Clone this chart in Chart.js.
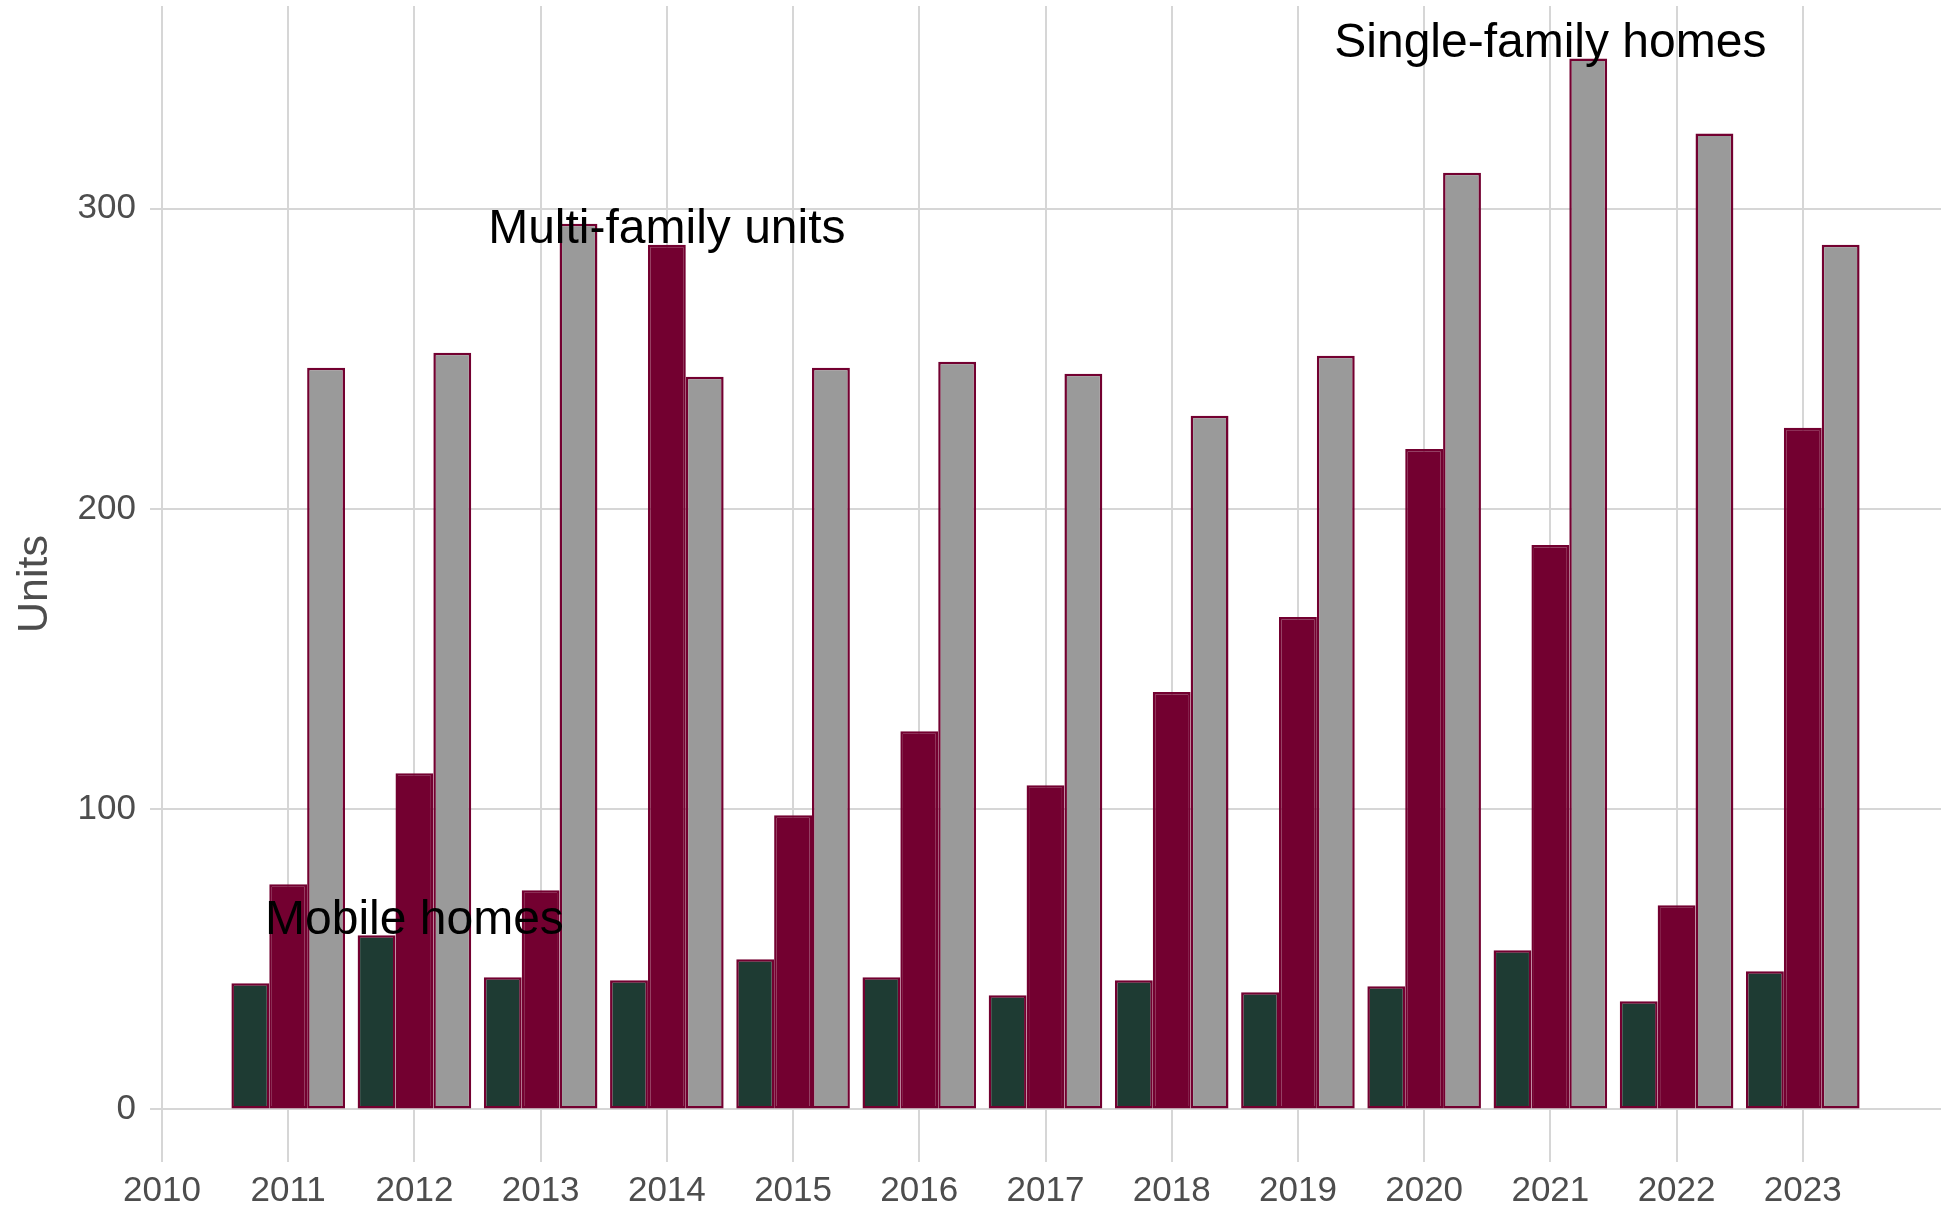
<!DOCTYPE html>
<html>
<head>
<meta charset="utf-8">
<script src="https://cdn.jsdelivr.net/npm/chart.js@4"></script>
<style>
  html, body { margin: 0; padding: 0; background: #ffffff; }
  #chart { display: block; }
</style>
</head>
<body>
<canvas id="chart" width="1941" height="1208"></canvas>
<script>
// ---- data ----
const years = [2011, 2012, 2013, 2014, 2015, 2016, 2017, 2018, 2019, 2020, 2021, 2022, 2023];
const mobileHomes = [42, 58, 44, 43, 50, 44, 38, 43, 39, 41, 53, 36, 46];
const multiFamily = [75, 112, 73, 288, 98, 126, 108, 139, 164, 220, 188, 68, 227];
const singleFamily = [247, 252, 295, 244, 247, 249, 245, 231, 251, 312, 350, 325, 288];
const xTickYears = [2010, 2011, 2012, 2013, 2014, 2015, 2016, 2017, 2018, 2019, 2020, 2021, 2022, 2023];
const yTickValues = [0, 100, 200, 300];
const seriesNames = ["Mobile homes", "Multi-family units", "Single-family homes"];

const FONT = "'Liberation Sans', Arial, Helvetica, sans-serif";
const EDGE = "#730030";

function toPoints(values) {
    return values.map((v, i) => ({ x: years[i], y: v }));
}

// series label sits just above each series' highest bar
const seriesLabels = {
    id: "seriesLabels",
    afterDatasetsDraw(chart) {
        const { ctx, scales } = chart;
        ctx.save();
        ctx.font = "48px " + FONT;
        ctx.fillStyle = "#000000";
        ctx.textAlign = "center";
        ctx.textBaseline = "middle";
        chart.data.datasets.forEach((ds) => {
            let best = ds.data[0];
            ds.data.forEach((p) => { if (p.y > best.y) best = p; });
            ctx.fillText(ds.label, scales.x.getPixelForValue(best.x), scales.y.getPixelForValue(best.y + 5));
        });
        ctx.restore();
    }
};

new Chart(document.getElementById("chart"), {
    type: "bar",
    data: {
        datasets: [
            { label: seriesNames[0], data: toPoints(mobileHomes), backgroundColor: "#1e3b33" },
            { label: seriesNames[1], data: toPoints(multiFamily), backgroundColor: "#730030" },
            { label: seriesNames[2], data: toPoints(singleFamily), backgroundColor: "#9a9a9a" }
        ].map((ds) => Object.assign(ds, {
            borderColor: EDGE,
            borderWidth: 2.5,
            borderSkipped: false,
            categoryPercentage: 0.9,
            barPercentage: 1.0
        }))
    },
    options: {
        responsive: false,
        animation: false,
        layout: { padding: { top: 6, right: 0, bottom: 0, left: 0 } },
        plugins: {
            legend: { display: false },
            tooltip: { enabled: false }
        },
        scales: {
            x: {
                type: "linear",
                min: 2009.905,
                max: 2024.095,
                offset: false,
                afterBuildTicks: (scale) => { scale.ticks = xTickYears.map((v) => ({ value: v })); },
                afterFit: (scale) => {
                    scale.height = 46;
                    scale.paddingLeft = 0;
                    scale.paddingRight = 0;
                },
                grid: { color: "#d6d6d6", lineWidth: 2, drawTicks: false, offset: false },
                border: { display: false },
                ticks: {
                    color: "#4d4d4d",
                    font: { family: FONT, size: 35 },
                    padding: 8,
                    maxRotation: 0,
                    autoSkip: false,
                    callback: (v) => String(v)
                }
            },
            y: {
                min: -17.5,
                max: 367.5,
                afterBuildTicks: (scale) => { scale.ticks = yTickValues.map((v) => ({ value: v })); },
                afterFit: (scale) => {
                    scale.width = 150;
                    scale.paddingTop = 0;
                    scale.paddingBottom = 0;
                },
                grid: { color: "#d6d6d6", lineWidth: 2, drawTicks: false },
                border: { display: false },
                ticks: {
                    color: "#4d4d4d",
                    font: { family: FONT, size: 35 },
                    padding: 14
                },
                title: {
                    display: true,
                    text: "Units",
                    color: "#4d4d4d",
                    font: { family: FONT, size: 43 },
                    padding: { top: 9, bottom: 0 }
                }
            }
        }
    },
    plugins: [seriesLabels]
});
</script>
</body>
</html>
